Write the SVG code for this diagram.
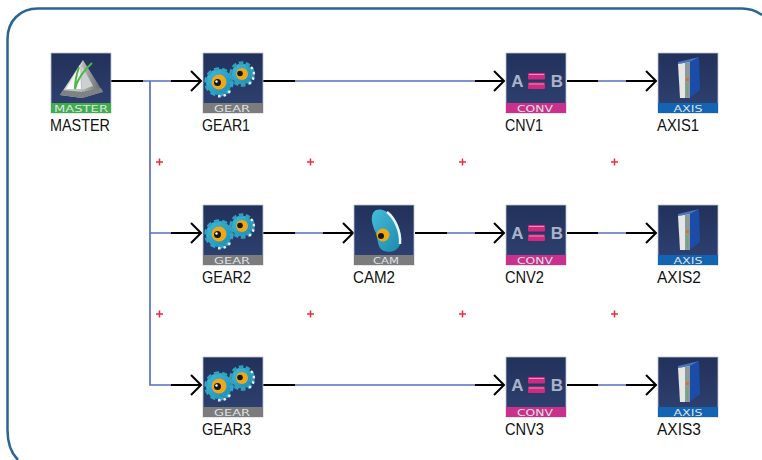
<svg xmlns="http://www.w3.org/2000/svg" xmlns:xlink="http://www.w3.org/1999/xlink" width="762" height="460" viewBox="0 0 762 460">
<style>
.lab{font-family:"Liberation Sans",Arial,sans-serif;font-size:16px;fill:#111}
.tag{font-family:"DejaVu Sans",sans-serif;font-size:9px;fill:#dfe3e6;text-anchor:middle}
.w{fill:none;stroke:#000;stroke-width:2}
.b{fill:none;stroke:#5a6fc0;stroke-width:1.700}
.p{fill:none;stroke:#ee2c3a;stroke-width:1.500}
.bd{fill:url(#bg);stroke:#b9c0cc;stroke-width:.8}
.ltr{font-family:"Liberation Sans",sans-serif;font-weight:700;font-size:17px;fill:#aab4c8;text-anchor:middle}
</style>
<defs>
<linearGradient id="bg" x1="0" y1="0" x2="0" y2="1"><stop offset="0" stop-color="#22315a"/><stop offset="1" stop-color="#2f4272"/></linearGradient>
<linearGradient id="lf" x1="0" y1="0" x2="1" y2="1"><stop offset="0" stop-color="#e2e2e2"/><stop offset="1" stop-color="#b4b8b8"/></linearGradient>
<linearGradient id="rf" x1="0" y1="0" x2="1" y2="0"><stop offset="0" stop-color="#b8b8b8"/><stop offset="1" stop-color="#5a6066"/></linearGradient>
<linearGradient id="cg" x1="0" y1="0" x2="1" y2="1"><stop offset="0" stop-color="#45bcd9"/><stop offset="1" stop-color="#1c88ae"/></linearGradient>
<g id="gears">
<circle cx="39" cy="21" r="10.500" fill="url(#cg)"/>
<circle cx="39" cy="21" r="11" fill="none" stroke="#2f9fc0" stroke-width="3.500" stroke-dasharray="4.500 2.400"/>
<path d="M48 14A11.500 11.500 0 0 1 46 31" fill="none" stroke="#dff1f5" stroke-width="2.500" stroke-dasharray="2.500 3"/>
<circle cx="39" cy="21" r="6" fill="#eba91a"/><circle cx="37" cy="20.500" r="2.800" fill="#161616"/>
<circle cx="16" cy="29" r="13" fill="url(#cg)"/>
<circle cx="16" cy="29" r="13" fill="none" stroke="#2ea3c6" stroke-width="3.500" stroke-dasharray="5 3"/>
<path d="M27 38A14 14 0 0 1 13 43" fill="none" stroke="#dff1f5" stroke-width="2.500" stroke-dasharray="2.500 3"/>
<circle cx="16" cy="29" r="7.500" fill="#eba91a"/><circle cx="14.500" cy="29.500" r="3.500" fill="#161616"/><circle cx="13.500" cy="28.500" r="1.200" fill="#fff"/>
</g>
<g id="conv">
<text class="ltr" x="11.500" y="34">A</text>
<text class="ltr" x="51" y="34">B</text>
<rect x="22" y="20" width="17" height="6.500" rx="1" fill="#cf2a80"/><rect x="22" y="29.500" width="17" height="6.500" rx="1" fill="#cf2a80"/>
<path d="M23 21.500H38M23 31H38" stroke="#f08ab8" stroke-width="1"/>
</g>
<g id="axis">
<path d="M32 9 41 4 42 37 32 45z" fill="#1b4ca8"/>
<path d="M20 9 41 4 32 9 20 11z" fill="#4a74c0"/>
<path d="M20 11 32 9V45H22z" fill="#e3e6e5"/>
<path d="M27 10 32 9V45H27z" fill="#8b9a98"/>
<rect x="28" y="25" width="3" height="3" fill="#d8702c"/>
<path d="M29.500 30V42" stroke="#5fae70" stroke-width="1"/>
</g>
</defs>
<path d="M762 15C755 10 750 8.500 742 8.500H38C20 8.500 7.500 21 7.500 39V430C7.500 443 11 453 18 460" fill="none" stroke="#2a6396" stroke-width="2.500"/>
<g id="connectors">
<path class="w" d="M111 81H143M171 81H201M263 81H295M475 81H504M567 81H598M626 81H656"/>
<path class="b" d="M143 81H171M295 81H475M598 81H626"/>
<path class="b" d="M150 81V385H171M150 233H171"/>
<path class="w" d="M171 233H201M263 233H295M323 233H353M415 233H447M475 233H504M567 233H598M626 233H656M171 385H201M263 385H295M475 385H504M567 385H598M626 385H656"/>
<path class="b" d="M295 233H323M447 233H475M598 233H626M295 385H475M598 385H626"/>
<path class="w" d="M191 71 201 81 191 91M191 223 201 233 191 243M191 375 201 385 191 395M343 223 353 233 343 243M494 71 504 81 494 91M494 223 504 233 494 243M494 375 504 385 494 395M646 71 656 81 646 91M646 223 656 233 646 243M646 375 656 385 646 395"/>
</g>
<g id="plus">
<path class="p" d="M156 162h7M159.500 158.500v7M307 162h7M310.500 158.500v7M459 162h7M462.500 158.500v7M611 162h7M614.500 158.500v7M156 314h7M159.500 310.500v7M307 314h7M310.500 310.500v7M459 314h7M462.500 310.500v7M611 314h7M614.500 310.500v7"/>
</g>
<g id="MASTER" transform="translate(51 53)">
<rect class="bd" width="60" height="60"/><rect y="50" width="60" height="10" fill="#3fae49"/>
<path d="M32 7 9 42 31 45z" fill="url(#lf)"/><path d="M32 7 31 45 52 39z" fill="url(#rf)"/>
<path d="M9 42 31 45 52 39 50 35 31 39 12 37z" fill="#7d8282"/>
<path d="M29 12 15 36 H30z" fill="#fafafa"/><path d="M31 13 31 37 42 33z" fill="#cdd0d0"/>
<path d="M24 36C26 28 32 18 41 10M24 36C24 28 26 20 28 14" stroke="#4cb848" stroke-width="2" fill="none"/>
<text class="tag" x="30" y="59" textLength="54" lengthAdjust="spacingAndGlyphs">MASTER</text>
<text class="lab" x="-1" y="78" textLength="60" lengthAdjust="spacingAndGlyphs">MASTER</text></g>
<g id="GEAR1" transform="translate(203 53)"><rect class="bd" width="60" height="60"/><use xlink:href="#gears"/><rect y="50" width="60" height="10" fill="#7c7c7c"/><text class="tag" x="29" y="59" textLength="36" lengthAdjust="spacingAndGlyphs">GEAR</text><text class="lab" x="-1" y="78" textLength="48" lengthAdjust="spacingAndGlyphs">GEAR1</text></g>
<g id="GEAR2" transform="translate(203 205)"><rect class="bd" width="60" height="60"/><use xlink:href="#gears"/><rect y="50" width="60" height="10" fill="#7c7c7c"/><text class="tag" x="29" y="59" textLength="36" lengthAdjust="spacingAndGlyphs">GEAR</text><text class="lab" x="-1" y="78" textLength="49" lengthAdjust="spacingAndGlyphs">GEAR2</text></g>
<g id="GEAR3" transform="translate(203 357)"><rect class="bd" width="60" height="60"/><use xlink:href="#gears"/><rect y="50" width="60" height="10" fill="#7c7c7c"/><text class="tag" x="29" y="59" textLength="36" lengthAdjust="spacingAndGlyphs">GEAR</text><text class="lab" x="-1" y="78" textLength="49" lengthAdjust="spacingAndGlyphs">GEAR3</text></g>
<g id="CAM2" transform="translate(354 205)"><rect class="bd" width="60" height="60"/>
<path d="M19 8C22 2 32 4 38 11 45 19 50 33 46 40 42 48 31 49 26 43 23 38 24 32 22 28 19 22 16 14 19 8z" fill="url(#cg)"/>
<path d="M33 7C41 13 47 27 46 39" stroke="#eaf4f6" stroke-width="2.500" fill="none"/>
<circle cx="29" cy="30" r="6.500" fill="#eba91a"/><circle cx="27" cy="31" r="3" fill="#161616"/>
<rect y="50" width="60" height="10" fill="#7c7c7c"/><text class="tag" x="32" y="59" textLength="26" lengthAdjust="spacingAndGlyphs">CAM</text><text class="lab" x="-1" y="78" textLength="42" lengthAdjust="spacingAndGlyphs">CAM2</text></g>
<g id="CNV1" transform="translate(506 53)"><rect class="bd" width="60" height="60"/><use xlink:href="#conv"/><rect y="50" width="60" height="10" fill="#c9318c"/><text class="tag" x="29" y="59" textLength="36" lengthAdjust="spacingAndGlyphs">CONV</text><text class="lab" x="-1" y="78" textLength="38" lengthAdjust="spacingAndGlyphs">CNV1</text></g>
<g id="CNV2" transform="translate(506 205)"><rect class="bd" width="60" height="60"/><use xlink:href="#conv"/><rect y="50" width="60" height="10" fill="#c9318c"/><text class="tag" x="29" y="59" textLength="36" lengthAdjust="spacingAndGlyphs">CONV</text><text class="lab" x="-1" y="78" textLength="39" lengthAdjust="spacingAndGlyphs">CNV2</text></g>
<g id="CNV3" transform="translate(506 357)"><rect class="bd" width="60" height="60"/><use xlink:href="#conv"/><rect y="50" width="60" height="10" fill="#c9318c"/><text class="tag" x="29" y="59" textLength="36" lengthAdjust="spacingAndGlyphs">CONV</text><text class="lab" x="-1" y="78" textLength="39" lengthAdjust="spacingAndGlyphs">CNV3</text></g>
<g id="AXIS1" transform="translate(658 53)"><rect class="bd" width="60" height="60"/><use xlink:href="#axis"/><rect y="50" width="60" height="10" fill="#1464b4"/><text class="tag" x="30" y="59" textLength="29" lengthAdjust="spacingAndGlyphs">AXIS</text><text class="lab" x="-1" y="78" textLength="42" lengthAdjust="spacingAndGlyphs">AXIS1</text></g>
<g id="AXIS2" transform="translate(658 205)"><rect class="bd" width="60" height="60"/><use xlink:href="#axis"/><rect y="50" width="60" height="10" fill="#1464b4"/><text class="tag" x="30" y="59" textLength="29" lengthAdjust="spacingAndGlyphs">AXIS</text><text class="lab" x="-1" y="78" textLength="44" lengthAdjust="spacingAndGlyphs">AXIS2</text></g>
<g id="AXIS3" transform="translate(658 357)"><rect class="bd" width="60" height="60"/><use xlink:href="#axis"/><rect y="50" width="60" height="10" fill="#1464b4"/><text class="tag" x="30" y="59" textLength="29" lengthAdjust="spacingAndGlyphs">AXIS</text><text class="lab" x="-1" y="78" textLength="44" lengthAdjust="spacingAndGlyphs">AXIS3</text></g>
</svg>
